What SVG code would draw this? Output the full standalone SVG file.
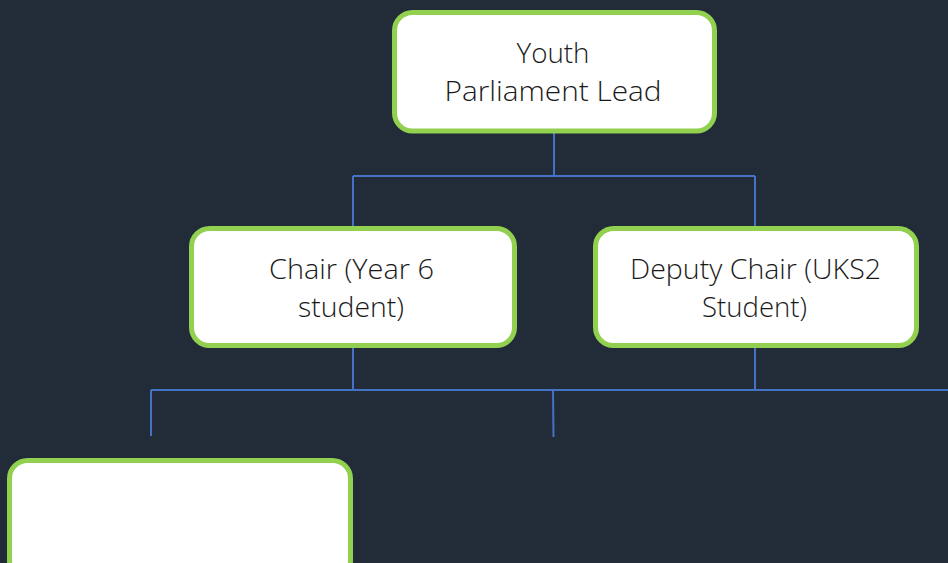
<svg xmlns="http://www.w3.org/2000/svg" width="948" height="563" viewBox="0 0 948 563">
  <style>
    .box { fill: #ffffff; stroke: #92d050; stroke-width: 5; }
    .conn { fill: none; stroke: #4472c4; stroke-width: 2; }
    .lbl { font-family: "Open Sans", "Liberation Sans", sans-serif; font-weight: 300; font-size: 28px; fill: #1a1a1a; text-anchor: middle; }
  </style>
  <rect x="0" y="0" width="948" height="563" fill="#222c39"/>
  <g id="connectors">
    <path class="conn" d="M554,133 V176 M353,176 H755 M353,176 V226 M755,176 V226"/>
    <path class="conn" d="M353,348 V390 M755,348 V390 M151,390 H948 M151,390 V436 M553,390 L553.5,437"/>
  </g>
  <g id="node-lead">
    <rect class="box" x="394.5" y="12.5" width="320" height="118.5" rx="18"/>
    <text class="lbl" x="553" y="63" textLength="73" lengthAdjust="spacingAndGlyphs">Youth</text>
    <text class="lbl" x="553" y="101" textLength="217" lengthAdjust="spacingAndGlyphs">Parliament  Lead</text>
  </g>
  <g id="node-chair">
    <rect class="box" x="191.5" y="228.5" width="323" height="117" rx="18"/>
    <text class="lbl" x="351.5" y="279" textLength="165" lengthAdjust="spacingAndGlyphs">Chair (Year 6</text>
    <text class="lbl" x="351" y="317" textLength="106" lengthAdjust="spacingAndGlyphs">student)</text>
  </g>
  <g id="node-deputy">
    <rect class="box" x="595.5" y="228.5" width="321" height="117" rx="18"/>
    <text class="lbl" x="755.5" y="279" textLength="251" lengthAdjust="spacingAndGlyphs">Deputy Chair (UKS2</text>
    <text class="lbl" x="754.5" y="317" textLength="105" lengthAdjust="spacingAndGlyphs">Student)</text>
  </g>
  <g id="node-blank">
    <rect class="box" x="9.5" y="460.5" width="341" height="118" rx="18"/>
  </g>
</svg>
